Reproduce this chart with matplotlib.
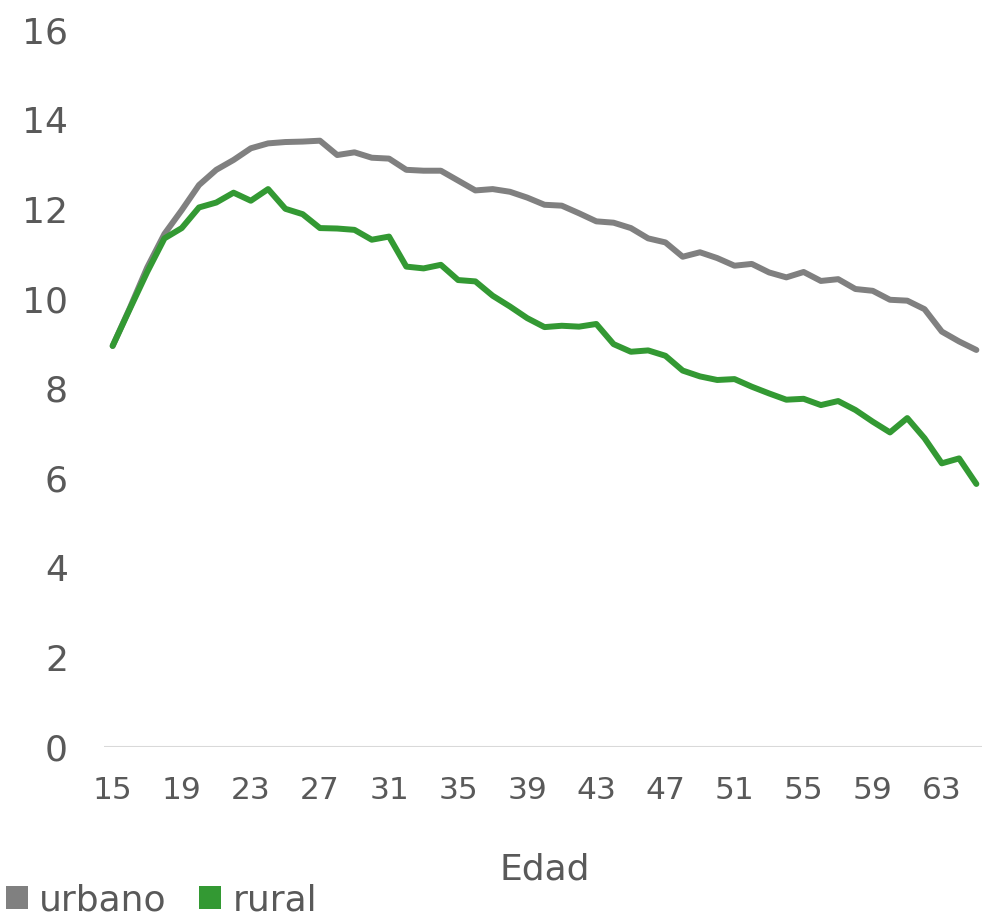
import matplotlib
matplotlib.use("Agg")
import matplotlib.pyplot as plt
from matplotlib.patches import Patch

ages = list(range(15, 66))
urbano = [8.95, 9.8, 10.7, 11.45, 11.98, 12.54, 12.88, 13.1, 13.36, 13.47, 13.5, 13.51, 13.53,
          13.21, 13.27, 13.15, 13.13, 12.88, 12.86, 12.86, 12.64, 12.42, 12.45, 12.39, 12.26,
          12.10, 12.08, 11.91, 11.73, 11.70, 11.58, 11.35, 11.26, 10.94, 11.04, 10.91, 10.74,
          10.78, 10.59, 10.48, 10.60, 10.40, 10.44, 10.22, 10.18, 9.98, 9.96, 9.77, 9.27,
          9.05, 8.86]
rural = [8.95, 9.78, 10.6, 11.35, 11.58, 12.04, 12.15, 12.37, 12.19, 12.45, 12.01, 11.89, 11.58,
         11.57, 11.54, 11.32, 11.39, 10.72, 10.68, 10.76, 10.42, 10.39, 10.07, 9.83, 9.57,
         9.37, 9.40, 9.38, 9.44, 8.99, 8.82, 8.85, 8.73, 8.40, 8.27, 8.19, 8.21, 8.04, 7.89,
         7.75, 7.77, 7.63, 7.72, 7.52, 7.26, 7.02, 7.34, 6.89, 6.33, 6.44, 5.87]
series_names = ["urbano", "rural"]
series_colors = ["#808080", "#339933"]
xticks = list(range(15, 64, 4))
yticks = list(range(0, 17, 2))

W, H = 982, 919
fig = plt.figure(figsize=(W / 100, H / 100), dpi=100)
ax = fig.add_axes([104 / W, (H - 747) / H, (985 - 104) / W, (747 - 30) / H])

for vals, name, col in zip([urbano, rural], series_names, series_colors):
    ax.plot(ages, vals, color=col, lw=4.3, solid_joinstyle="round", solid_capstyle="round",
            label=name, zorder=3)

ax.set_xlim(14.5, 65.5)
ax.set_ylim(0, 16)
ax.set_yticks(yticks)
ax.set_xticks(xticks)
ax.axhline(0, color="#d9d9d9", lw=1.5, zorder=1)
for s in ax.spines.values():
    s.set_visible(False)
ax.tick_params(axis="both", length=0, colors="#595959")
ax.tick_params(axis="y", labelsize=26, pad=26)
ax.tick_params(axis="x", labelsize=22.5, pad=21)
ax.set_xlabel("Edad", fontsize=26, color="#595959", labelpad=34)

handles = [Patch(facecolor=c, edgecolor="none") for c in series_colors]
fig.legend(handles, series_names, loc="lower left", bbox_to_anchor=(0.004, 0.0),
           frameon=False, fontsize=26, labelcolor="#595959", handlelength=0.62,
           handleheight=0.62, handletextpad=0.3, columnspacing=0.9, ncol=2, borderpad=0.05,
           borderaxespad=0)

fig.savefig("out.png", dpi=100)
